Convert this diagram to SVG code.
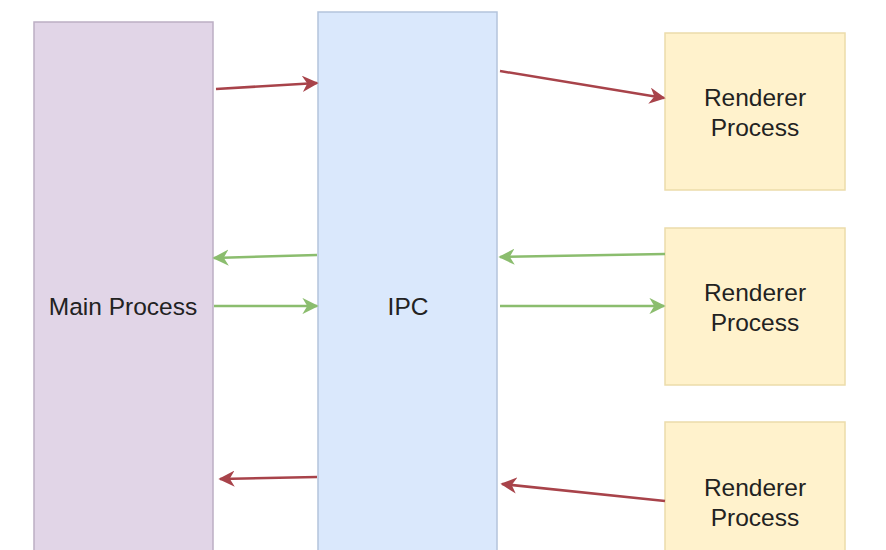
<svg xmlns="http://www.w3.org/2000/svg" width="886" height="550" viewBox="0 0 886 550">
<style>
.lbl{font-family:"Liberation Sans",Arial,sans-serif;font-size:24.5px;fill:#222;text-anchor:middle;dominant-baseline:central}
.red{stroke:#a8434a;stroke-width:2.5;fill:none;marker-end:url(#ar)}
.grn{stroke:#8bbd6e;stroke-width:2.5;fill:none;marker-end:url(#ag)}
</style>
<defs>
<marker id="ar" viewBox="0 0 10 10" refX="9" refY="5" markerWidth="6.5" markerHeight="6.5" markerUnits="strokeWidth" orient="auto"><path d="M0,0 L10,5 L0,10 L3,5 Z" fill="#a8434a"/></marker>
<marker id="ag" viewBox="0 0 10 10" refX="9" refY="5" markerWidth="6.5" markerHeight="6.5" markerUnits="strokeWidth" orient="auto"><path d="M0,0 L10,5 L0,10 L3,5 Z" fill="#8bbd6e"/></marker>
</defs>
<rect width="886" height="550" fill="#fff"/>
<g id="main"><rect x="34" y="22" width="179" height="540" fill="#e1d5e7" stroke="#bcaec4" stroke-width="1.5"/><text class="lbl" x="123" y="306">Main Process</text></g>
<g id="ipc"><rect x="318" y="12" width="179" height="550" fill="#dae8fc" stroke="#b4c4dc" stroke-width="1.5"/><text class="lbl" x="408" y="306">IPC</text></g>
<g id="r1"><rect x="665" y="33" width="180" height="157" fill="#fff2cc" stroke="#ecdcaa" stroke-width="1.5"/><text class="lbl" x="755" y="97">Renderer</text><text class="lbl" x="755" y="127">Process</text></g>
<g id="r2"><rect x="665" y="228" width="180" height="157" fill="#fff2cc" stroke="#ecdcaa" stroke-width="1.5"/><text class="lbl" x="755" y="292">Renderer</text><text class="lbl" x="755" y="322">Process</text></g>
<g id="r3"><rect x="665" y="422" width="180" height="157" fill="#fff2cc" stroke="#ecdcaa" stroke-width="1.5"/><text class="lbl" x="755" y="487">Renderer</text><text class="lbl" x="755" y="517">Process</text></g>
<g id="connectors">
<line class="red" x1="216" y1="89" x2="317" y2="83"/>
<line class="red" x1="500" y1="71" x2="664" y2="98"/>
<line class="grn" x1="317" y1="255" x2="214" y2="258"/>
<line class="grn" x1="214" y1="306" x2="317" y2="306"/>
<line class="grn" x1="665" y1="254" x2="500" y2="257"/>
<line class="grn" x1="500" y1="306" x2="664" y2="306"/>
<line class="red" x1="317" y1="477" x2="220" y2="479"/>
<line class="red" x1="665" y1="501" x2="502" y2="484"/>
</g>
</svg>
